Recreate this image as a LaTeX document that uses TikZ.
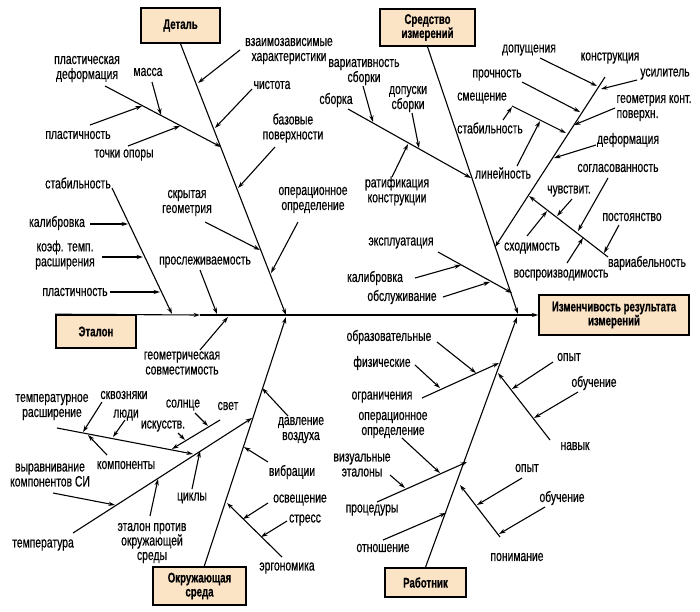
\documentclass[tikz,border=0pt]{standalone}
\usepackage{fontspec}
\setmainfont{Liberation Sans}[FakeStretch=0.69,FakeBold=0.4]
\usetikzlibrary{arrows.meta}
\definecolor{boxfill}{RGB}{251,227,198}

\begin{document}
\begin{tikzpicture}[x=1pt,y=-1pt,line width=1.1pt,
    lbl/.style={inner sep=0pt,align=center,font=\fontsize{15}{15}\selectfont},
    box/.style={draw,line width=1.6pt,fill=boxfill,align=center,inner sep=0pt,font=\fontsize{14}{14}\selectfont\bfseries},
    arr/.style={-{Stealth[length=6.5pt,width=4.2pt]}}]
    \useasboundingbox (0,0) rectangle (700,611);

    % boxes
    \node at (180.5,25.5) [box,minimum width=79pt,minimum height=35pt] (det) {Деталь};
    \node at (427.5,27.5) [box,minimum width=95pt,minimum height=37pt] (sred) {Средство\\измерений};
    \node at (96,331.5) [box,minimum width=80pt,minimum height=33pt] (etal) {Эталон};
    \node at (199.5,586) [box,minimum width=93pt,minimum height=38pt] (okr) {Окружающая\\среда};
    \node at (425.5,582.5) [box,minimum width=81pt,minimum height=29pt] (rab) {Работник};
    \node at (614,315) [box,minimum width=150pt,minimum height=40pt] (res) {Изменчивость результата\\измерений};

    % main bones
    \coordinate (sp) at (200,315);
    \coordinate (jd) at (286,315);
    \coordinate (jo) at (286,317);
    \coordinate (js) at (518,314);
    \coordinate (jr) at (517,317);
    \coordinate (o0) at (204,567);
    \draw[arr] (etal.north west) -- (sp);
    \draw[arr] (sp) -- (res.west);
    \draw[arr] (det.south) -- (jd);
    \draw[arr] (sred.south) -- (js);
    \draw[arr] (o0) -- (jo);
    \draw[arr] (rab.north) -- (jr);

    % Деталь
    \node at (289,51) [lbl] (d1) {взаимозависимые\\характеристики};
    \node at (272,85) [lbl] (d2) {чистота};
    \node at (293,128) [lbl] (d3) {базовые\\поверхности};
    \node at (313,200) [lbl] (d4) {операционное\\определение};
    \node at (187,203) [lbl] (d5) {скрытая\\геометрия};
    \node at (87,69) [lbl] (d6) {пластическая\\деформация};
    \node at (148,72) [lbl] (d7) {масса};
    \node at (78,135) [lbl] (d8) {пластичность};
    \node at (124,155) [lbl] (d9) {точки опоры};
    \node at (205,262) [lbl] (d10) {прослеживаемость};
    \coordinate (d1a) at (240,50);  \coordinate (d1b) at (198,83);
    \coordinate (d2a) at (252,89);  \coordinate (d2b) at (215,128);
    \coordinate (d3a) at (275,147); \coordinate (d3b) at (238,188);
    \coordinate (d4a) at (298,222); \coordinate (d4b) at (271,273);
    \coordinate (d5a) at (205,222); \coordinate (d5b) at (260,250);
    \coordinate (d6a) at (105,86);  \coordinate (d6b) at (221,147);
    \coordinate (d7a) at (152,82);  \coordinate (d7b) at (161,115);
    \coordinate (d8a) at (90,125);  \coordinate (d8b) at (142,106);
    \coordinate (d9a) at (128,146); \coordinate (d9b) at (180,126);
    \coordinate (d10a) at (200,270); \coordinate (d10b) at (217,314);
    \draw[arr] (d1a) -- (d1b);
    \draw[arr] (d2a) -- (d2b);
    \draw[arr] (d3a) -- (d3b);
    \draw[arr] (d4a) -- (d4b);
    \draw[arr] (d5a) -- (d5b);
    \draw[arr] (d6a) -- (d6b);
    \draw[arr] (d7a) -- (d7b);
    \draw[arr] (d8a) -- (d8b);
    \draw[arr] (d9a) -- (d9b);
    \draw[arr] (d10a) -- (d10b);

    % Эталон
    \node at (78,183) [lbl] (e1) {стабильность};
    \node at (57,223) [lbl] (e2) {калибровка};
    \node at (65,255) [lbl] (e3) {коэф. темп.\\расширения};
    \node at (75,292) [lbl] (e4) {пластичность};
    \node at (182,363) [lbl] (e5) {геометрическая\\совместимость};
    \coordinate (e1a) at (112,188); \coordinate (e1b) at (172,314);
    \coordinate (e2a) at (90,224);  \coordinate (e2b) at (128,224);
    \coordinate (e3a) at (102,257); \coordinate (e3b) at (143,257);
    \coordinate (e4a) at (110,292); \coordinate (e4b) at (160,292);
    \coordinate (e5a) at (200,350); \coordinate (e5b) at (228,317);
    \draw[arr] (e1a) -- (e1b);
    \draw[arr] (e2a) -- (e2b);
    \draw[arr] (e3a) -- (e3b);
    \draw[arr] (e4a) -- (e4b);
    \draw[arr] (e5a) -- (e5b);

    % Окружающая среда
    \node at (301,430) [lbl] (o1) {давление\\воздуха};
    \node at (292,472) [lbl] (o2) {вибрации};
    \node at (287,568) [lbl] (o3) {эргономика};
    \node at (300,500) [lbl] (o4) {освещение};
    \node at (305,520) [lbl] (o5) {стресс};
    \node at (43,545) [lbl] (o6) {температура};
    \node at (50,475) [lbl] (o7) {выравнивание\\компонентов СИ};
    \node at (152,543) [lbl,font=\fontsize{15}{14.5}\selectfont] (o8) {эталон против\\окружающей\\среды};
    \node at (192,498) [lbl] (o9) {циклы};
    \node at (52,407) [lbl] (o10) {температурное\\расширение};
    \node at (124,395) [lbl] (o11) {сквозняки};
    \node at (126,415) [lbl] (o12) {люди};
    \node at (126,465) [lbl] (o13) {компоненты};
    \node at (228,406) [lbl] (o14) {свет};
    \node at (183,405) [lbl] (o15) {солнце};
    \node at (163,426) [lbl] (o16) {искусств.};
    \coordinate (o1a) at (288,416);  \coordinate (o1b) at (262,388);
    \coordinate (o2a) at (268,462);  \coordinate (o2b) at (244,447);
    \coordinate (o3a) at (282,557);  \coordinate (o3b) at (227,503);
    \coordinate (o4a) at (268,503);  \coordinate (o4b) at (243,519);
    \coordinate (o5a) at (287,521);  \coordinate (o5b) at (261,537);
    \coordinate (o6a) at (73,533);   \coordinate (o6b) at (252,418);
    \coordinate (o7a) at (53,493);   \coordinate (o7b) at (115,505);
    \coordinate (o8a) at (150,516);  \coordinate (o8b) at (158,479);
    \coordinate (o9a) at (192,489);  \coordinate (o9b) at (200,451);
    \coordinate (o10a) at (57,428);  \coordinate (o10b) at (193,454);
    \coordinate (o11a) at (102,402); \coordinate (o11b) at (83,432);
    \coordinate (o12a) at (125,420); \coordinate (o12b) at (113,437);
    \coordinate (o13a) at (107,455); \coordinate (o13b) at (88,435);
    \coordinate (o14a) at (220,420); \coordinate (o14b) at (172,449);
    \coordinate (o15a) at (195,413); \coordinate (o15b) at (208,426);
    \coordinate (o16a) at (178,433); \coordinate (o16b) at (185,440);
    \draw[arr] (o1a) -- (o1b);
    \draw[arr] (o2a) -- (o2b);
    \draw[arr] (o3a) -- (o3b);
    \draw[arr] (o4a) -- (o4b);
    \draw[arr] (o5a) -- (o5b);
    \draw[arr] (o6a) -- (o6b);
    \draw[arr] (o7a) -- (o7b);
    \draw[arr] (o8a) -- (o8b);
    \draw[arr] (o9a) -- (o9b);
    \draw[arr] (o10a) -- (o10b);
    \draw[arr] (o11a) -- (o11b);
    \draw[arr] (o12a) -- (o12b);
    \draw[arr] (o13a) -- (o13b);
    \draw[arr] (o14a) -- (o14b);
    \draw[arr] (o15a) -- (o15b);
    \draw[arr] (o16a) -- (o16b);

    % Работник
    \node at (389,337) [lbl] (r1) {образовательные};
    \node at (382,363) [lbl] (r2) {физические};
    \node at (382,397) [lbl] (r3) {ограничения};
    \node at (393,425) [lbl] (r4) {операционное\\определение};
    \node at (362,465) [lbl] (r5) {визуальные\\эталоны};
    \node at (372,510) [lbl] (r6) {процедуры};
    \node at (383,548) [lbl] (r7) {отношение};
    \node at (575,446) [lbl] (r8) {навык};
    \node at (569,357) [lbl] (r9) {опыт};
    \node at (594,383) [lbl] (r10) {обучение};
    \node at (517,557) [lbl] (r11) {понимание};
    \node at (527,468) [lbl] (r12) {опыт};
    \node at (562,498) [lbl] (r13) {обучение};
    \coordinate (r1a) at (437,342);  \coordinate (r1b) at (476,373);
    \coordinate (r2a) at (415,365);  \coordinate (r2b) at (440,388);
    \coordinate (r3a) at (422,398);  \coordinate (r3b) at (499,363);
    \coordinate (r4a) at (402,438);  \coordinate (r4b) at (440,473);
    \coordinate (r5a) at (390,475);  \coordinate (r5b) at (405,488);
    \coordinate (r6a) at (377,502);  \coordinate (r6b) at (467,462);
    \coordinate (r7a) at (383,540);  \coordinate (r7b) at (446,513);
    \coordinate (r8a) at (550,440);  \coordinate (r8b) at (498,373);
    \coordinate (r9a) at (553,362);  \coordinate (r9b) at (512,389);
    \coordinate (r10a) at (578,392); \coordinate (r10b) at (534,418);
    \coordinate (r11a) at (500,537); \coordinate (r11b) at (460,485);
    \coordinate (r12a) at (522,478); \coordinate (r12b) at (477,505);
    \coordinate (r13a) at (545,507); \coordinate (r13b) at (499,534);
    \draw[arr] (r1a) -- (r1b);
    \draw[arr] (r2a) -- (r2b);
    \draw[arr] (r3a) -- (r3b);
    \draw[arr] (r4a) -- (r4b);
    \draw[arr] (r5a) -- (r5b);
    \draw[arr] (r6a) -- (r6b);
    \draw[arr] (r7a) -- (r7b);
    \draw[arr] (r8a) -- (r8b);
    \draw[arr] (r9a) -- (r9b);
    \draw[arr] (r10a) -- (r10b);
    \draw[arr] (r11a) -- (r11b);
    \draw[arr] (r12a) -- (r12b);
    \draw[arr] (r13a) -- (r13b);

    % Средство измерений
    \node at (336,100) [lbl] (s1) {сборка};
    \node at (364,72) [lbl] (s2) {вариативность\\сборки};
    \node at (408,99) [lbl] (s3) {допуски\\сборки};
    \node at (397,191) [lbl] (s4) {ратификация\\конструкции};
    \node at (401,243) [lbl] (s5) {эксплуатация};
    \node at (375,278) [lbl] (s6) {калибровка};
    \node at (402,297) [lbl] (s7) {обслуживание};
    \node at (610,58) [lbl] (s8) {конструкция};
    \node at (529,50) [lbl] (s9) {допущения};
    \node at (665,74) [lbl] (s10) {усилитель};
    \node at (497,75) [lbl] (s11) {прочность};
    \node at (616,108) [lbl,anchor=west,align=left] (s12) {геометрия конт.\\поверхн.};
    \node at (628,140) [lbl] (s13) {деформация};
    \node at (482,98) [lbl] (s14) {смещение};
    \node at (490,128) [lbl] (s15) {стабильность};
    \node at (503,173) [lbl] (s16) {линейность};
    \node at (647,263) [lbl] (s17) {вариабельность};
    \node at (618,168) [lbl] (s18) {согласованность};
    \node at (569,191) [lbl] (s19) {чувствит.};
    \node at (632,217) [lbl] (s20) {постоянство};
    \node at (532,248) [lbl] (s21) {сходимость};
    \node at (561,275) [lbl] (s22) {воспроизводимость};
    \coordinate (s1a) at (348,109);  \coordinate (s1b) at (471,178);
    \coordinate (s2a) at (363,86);   \coordinate (s2b) at (373,122);
    \coordinate (s3a) at (412,113);  \coordinate (s3b) at (419,148);
    \coordinate (s4a) at (392,177);  \coordinate (s4b) at (408,144);
    \coordinate (s5a) at (438,252);  \coordinate (s5b) at (512,293);
    \coordinate (s6a) at (415,278);  \coordinate (s6b) at (461,265);
    \coordinate (s7a) at (443,297);  \coordinate (s7b) at (490,282);
    \coordinate (s8a) at (605,77);   \coordinate (s8b) at (495,247);
    \coordinate (s9a) at (540,58);   \coordinate (s9b) at (597,86);
    \coordinate (s10a) at (637,80);  \coordinate (s10b) at (601,89);
    \coordinate (s11a) at (522,82);  \coordinate (s11b) at (580,112);
    \coordinate (s12a) at (615,108); \coordinate (s12b) at (574,125);
    \coordinate (s13a) at (596,145); \coordinate (s13b) at (554,158);
    \coordinate (s14a) at (512,106); \coordinate (s14b) at (566,133);
    \coordinate (s15a) at (503,120); \coordinate (s15b) at (512,107);
    \coordinate (s16a) at (517,166); \coordinate (s16b) at (540,121);
    \coordinate (s17a) at (608,257); \coordinate (s17b) at (529,196);
    \coordinate (s18a) at (608,178); \coordinate (s18b) at (578,231);
    \coordinate (s19a) at (572,199); \coordinate (s19b) at (557,216);
    \coordinate (s20a) at (619,225); \coordinate (s20b) at (604,253);
    \coordinate (s21a) at (527,236); \coordinate (s21b) at (547,211);
    \coordinate (s22a) at (567,263); \coordinate (s22b) at (583,238);
    \draw[arr] (s1a) -- (s1b);
    \draw[arr] (s2a) -- (s2b);
    \draw[arr] (s3a) -- (s3b);
    \draw[arr] (s4a) -- (s4b);
    \draw[arr] (s5a) -- (s5b);
    \draw[arr] (s6a) -- (s6b);
    \draw[arr] (s7a) -- (s7b);
    \draw[arr] (s8a) -- (s8b);
    \draw[arr] (s9a) -- (s9b);
    \draw[arr] (s10a) -- (s10b);
    \draw[arr] (s11a) -- (s11b);
    \draw[arr] (s12a) -- (s12b);
    \draw[arr] (s13a) -- (s13b);
    \draw[arr] (s14a) -- (s14b);
    \draw[arr] (s15a) -- (s15b);
    \draw[arr] (s16a) -- (s16b);
    \draw[arr] (s17a) -- (s17b);
    \draw[arr] (s18a) -- (s18b);
    \draw[arr] (s19a) -- (s19b);
    \draw[arr] (s20a) -- (s20b);
    \draw[arr] (s21a) -- (s21b);
    \draw[arr] (s22a) -- (s22b);
\end{tikzpicture}
\end{document}
